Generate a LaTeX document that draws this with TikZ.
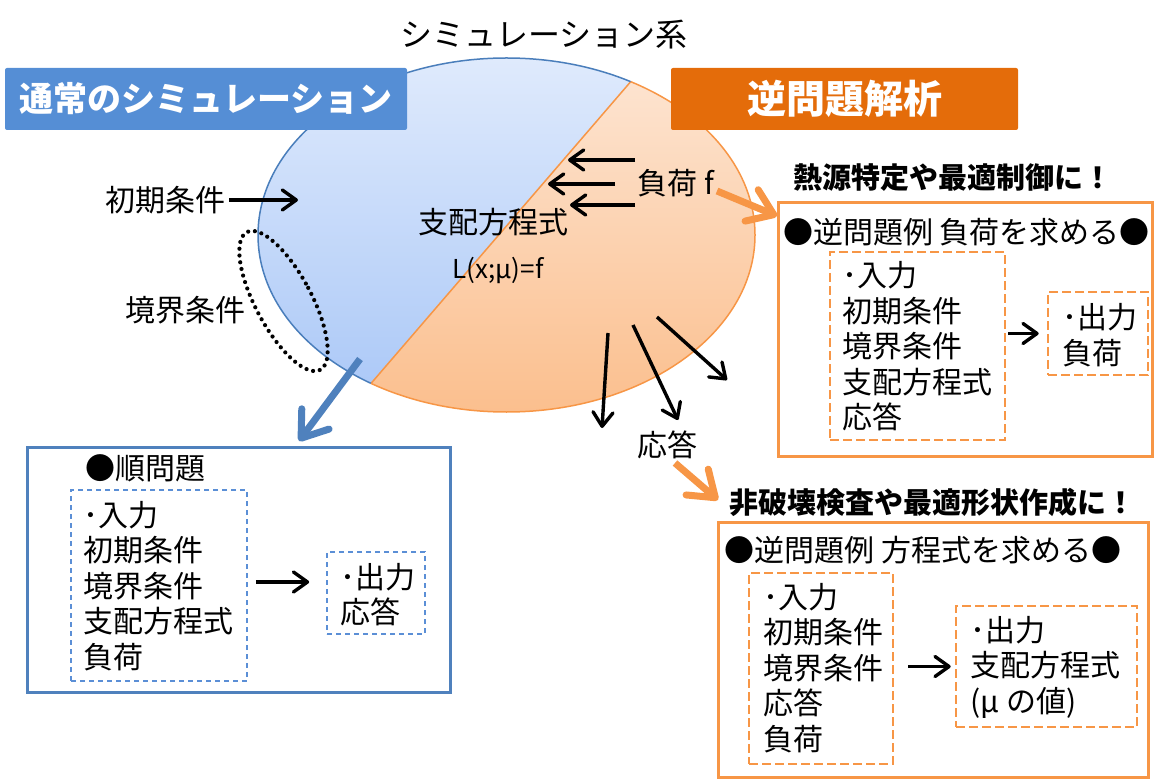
\documentclass[tikz,border=0pt]{standalone}
\usepackage{fontspec}
\setmainfont{Noto Sans CJK JP}
\usetikzlibrary{arrows.meta}
\definecolor{bannerblue}{HTML}{558ED5}
\definecolor{bannerorange}{HTML}{E46C0A}
\definecolor{boxorange}{HTML}{F79646}
\definecolor{boxblue}{HTML}{4F81BD}
\definecolor{dashblue}{HTML}{5B8FD6}
\definecolor{bluetop}{HTML}{DFEAFC}
\definecolor{bluebot}{HTML}{A9C7F7}
\definecolor{orangetop}{HTML}{FDE6D4}
\definecolor{orangebot}{HTML}{FBBF8E}
\definecolor{ellblue}{HTML}{4A7EBB}
\begin{document}
\begin{tikzpicture}[x=0.5pt,y=-0.5pt,
  txt/.style={inner sep=0pt, font=\fontsize{15}{17.75}\selectfont, align=left},
  headtxt/.style={inner sep=0pt, font=\fontsize{14.5}{17}\selectfont\bfseries},
  arr/.style={line width=1.7pt, -{Straight Barb[length=7pt,width=10pt,line width=1.7pt,round]}},
  fatorange/.style={line width=3.5pt, draw=boxorange, -{Straight Barb[length=12pt,width=17pt,line width=3.5pt,round]}},
  fatblue/.style={line width=3.5pt, draw=boxblue, -{Straight Barb[length=12pt,width=17pt,line width=3.5pt,round]}},
  obox/.style={draw=boxorange, line width=1.5pt, inner sep=0pt},
  odash/.style={draw=boxorange, line width=1.3pt, inner sep=0pt, dash pattern=on 4.5pt off 2pt},
  bbox/.style={draw=boxblue, line width=1.5pt, inner sep=0pt},
  bdash/.style={draw=dashblue, line width=0.85pt, inner sep=0pt, dash pattern=on 2.5pt off 2pt},
  banner/.style={inner sep=0pt, minimum height=31pt, text=white, rounded corners=1pt},
  dotline/.style={line width=2.1pt, dash pattern=on 0pt off 3.4pt, line cap=round}
]
\useasboundingbox (0,0) rectangle (1165,780);

% ---- ellipse (simulation system) ----
\begin{scope}
  \clip (506.5,235) ellipse [x radius=248.5, y radius=177];
  \shade[top color=bluetop, bottom color=bluebot] (651,58) -- (346.5,412) -- (250,412) -- (250,58) -- cycle;
  \shade[top color=orangetop, bottom color=orangebot] (651,58) -- (346.5,412) -- (760,412) -- (760,58) -- cycle;
  \draw[boxorange, line width=0.75pt] (704.4,-4) -- (290.5,477);
\end{scope}
\begin{scope}
  \clip (704.4,-4) -- (290.5,477) -- (200,477) -- (200,-4) -- cycle;
  \draw[ellblue, line width=0.75pt] (506.5,235) ellipse [x radius=248.5, y radius=177];
\end{scope}
\begin{scope}
  \clip (704.4,-4) -- (290.5,477) -- (800,477) -- (800,-4) -- cycle;
  \draw[boxorange, line width=0.75pt] (506.5,235) ellipse [x radius=248.5, y radius=177];
\end{scope}

% ---- title and banners ----
\node[inner sep=0pt, font=\fontsize{16}{19}\selectfont] (title) at (544,35) {シミュレーション系};
\node[banner, fill=bannerblue, minimum width=201pt, font=\fontsize{17}{20}\selectfont\bfseries] (ban1) at (206,99) {通常のシミュレーション};
\node[banner, fill=bannerorange, minimum width=173.5pt, font=\fontsize{19.5}{22}\selectfont\bfseries] (ban2) at (844.5,99) {逆問題解析};

% ---- labels around the ellipse ----
\node[txt] (shoki) at (165,200) {初期条件};
\coordinate (shokiEnd) at (298,200);
\draw[arr] ([xshift=2pt]shoki.east) -- (shokiEnd);

\node[txt] (kyokai) at (185.5,310) {境界条件};
\draw[dotline, rotate around={28:(283.5,301)}] (283.5,301) ellipse [x radius=28, y radius=78];

\node[txt] (shihai) at (493,222) {支配方程式};
\node[inner sep=0pt, font=\fontsize{13}{15}\selectfont] (Leq) at (498,270) {L(x;μ)=f};

\node[txt, anchor=west] (fuka) at (637,183) {負荷 f};
\coordinate (f1a) at (635,160); \coordinate (f1b) at (568,160);
\coordinate (f2a) at (615,184); \coordinate (f2b) at (548,184);
\coordinate (f3a) at (635,205); \coordinate (f3b) at (570,205);
\draw[arr] (f1a) -- (f1b);
\draw[arr] (f2a) -- (f2b);
\draw[arr] (f3a) -- (f3b);

\node[txt] (outou) at (667,445) {応答};
\coordinate (r1a) at (608,333); \coordinate (r1b) at (602,428);
\coordinate (r2a) at (633,325); \coordinate (r2b) at (678,420);
\coordinate (r3a) at (657,317); \coordinate (r3b) at (727,380);
\draw[arr] (r1a) -- (r1b);
\draw[arr] (r2a) -- (r2b);
\draw[arr] (r3a) -- (r3b);

% ---- box 1: inverse problem, load ----
\node[headtxt, anchor=west] (note1) at (793,178) {熱源特定や最適制御に！};
\node[obox, minimum width=187pt, minimum height=126.5pt] (box1) at (965,329.5) {};
\node[txt] (h1) at (966.5,232) {●逆問題例 負荷を求める●};
\node[odash, minimum width=87.5pt, minimum height=94pt] (in1) at (917.5,346) {};
\node[odash, minimum width=50pt, minimum height=41.5pt] (out1) at (1098,333.5) {};
\node[txt, anchor=west] (in1t) at (842,346.5) {･入力\\初期条件\\境界条件\\支配方程式\\応答};
\node[txt, anchor=west] (out1t) at (1062,335) {･出力\\負荷};
\draw[arr] ([xshift=1pt]in1.east |- out1.west) -- ([xshift=-4pt]out1.west);

% ---- box 2: inverse problem, equation ----
\node[headtxt, anchor=west] (note2) at (729,502) {非破壊検査や最適形状作成に！};
\node[obox, minimum width=215pt, minimum height=127.5pt] (box2) at (933,649.5) {};
\node[txt] (h2) at (923,550) {●逆問題例 方程式を求める●};
\node[odash, minimum width=72pt, minimum height=95.5pt] (in2) at (821,668.5) {};
\node[odash, minimum width=90.5pt, minimum height=60.5pt] (out2) at (1046.5,666.5) {};
\node[txt, anchor=west] (in2t) at (763,668) {･入力\\初期条件\\境界条件\\応答\\負荷};
\node[txt, anchor=west] (out2t) at (970,667) {･出力\\支配方程式\\(μ の値)};
\draw[arr] ([xshift=7pt]in2.east |- out2.west) -- ([xshift=-2pt]out2.west);

% ---- box 3: forward problem ----
\node[bbox, minimum width=211.5pt, minimum height=122.5pt] (box3) at (238.5,569.5) {};
\node[txt] (h3) at (145.5,468) {●順問題};
\node[bdash, minimum width=88pt, minimum height=95.5pt] (in3) at (159,585.5) {};
\node[bdash, minimum width=49pt, minimum height=41pt] (out3) at (376,593) {};
\node[txt, anchor=west] (in3t) at (83,586) {･入力\\初期条件\\境界条件\\支配方程式\\負荷};
\node[txt, anchor=west] (out3t) at (340,594.5) {･出力\\応答};
\draw[arr] ([xshift=4pt,yshift=1.75pt]in3.east) -- ([xshift=-8.5pt,yshift=1.75pt]in3.east -| out3.west);

% ---- thick arrows ----
\coordinate (fukaS) at (717,191); \coordinate (fukaE) at (777,216);
\draw[fatorange] (fukaS) -- (fukaE);
\coordinate (outouS) at (675,463); \coordinate (outouE) at (718,500);
\draw[fatorange] (outouS) -- (outouE);
\coordinate (simS) at (360,359); \coordinate (simE) at (299,441);
\draw[fatblue] (simS) -- (simE);
\end{tikzpicture}
\end{document}
